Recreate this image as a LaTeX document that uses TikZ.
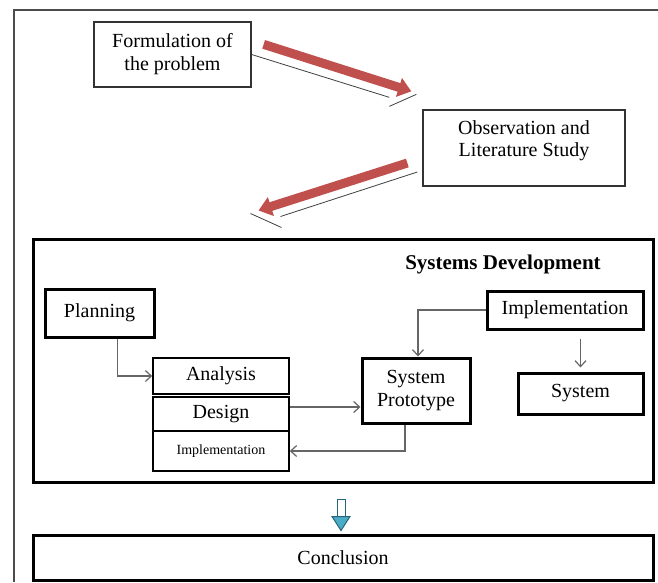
\documentclass[tikz,border=0pt]{standalone}
\usepackage{fontspec}
\setmainfont{Liberation Serif}
\usetikzlibrary{arrows.meta, positioning, calc}
\definecolor{flowred}{RGB}{192, 80, 77}
\definecolor{downteal}{RGB}{75, 172, 198}
\definecolor{downdark}{RGB}{38, 100, 120}

\begin{document}
\begin{tikzpicture}[x=1pt, y=-1pt,
    box/.style={draw=black!80, line width=1.3pt, inner sep=0pt, align=center, font=\fontsize{20}{23}\selectfont},
    boldbox/.style={box, draw=black, line width=3pt},
    stack/.style={box, draw=black, line width=1.6pt, minimum width=136pt},
    conn/.style={draw=black!60, line width=1.2pt, -{Straight Barb[length=6pt,width=11pt]}},
    bigarrow/.style={draw=flowred, line width=9pt, -{Triangle[length=13pt,width=19pt]}},
    shadowline/.style={draw=black!75, line width=0.8pt},
]
    \path[use as bounding box, fill=white] (0,0) rectangle (658,582);
    \draw[black!70, line width=2pt] (14,582) -- (14,10) -- (658,10);

    % Research steps
    \node[box, minimum width=157pt, minimum height=65pt] (form) at (172.5,54.5) {Formulation of\\the problem};
    \node[box, minimum width=202pt, minimum height=76pt] (obs) at (524,148)
        {\raisebox{7pt}[\height][\depth]{\begin{tabular}{@{}c@{}}Observation and\\[-1pt]Literature Study\end{tabular}}};

    % Systems development block
    \node[boldbox, minimum width=620pt, minimum height=243pt] (sysdev) at (343,360.5) {};
    \node[font=\bfseries\fontsize{21}{24}\selectfont] (title) at (503,264) {Systems Development};
    \node[boldbox, minimum width=109pt, minimum height=48pt] (plan) at (99.5,313) {Planning};
    \node[stack, minimum height=36pt] (analysis) at (221,376) {Analysis};
    \node[stack, minimum height=34pt] (design) at (221,414) {Design};
    \node[stack, minimum height=40pt, font=\fontsize{14}{16}\selectfont] (implsmall) at (221,451) {Implementation};
    \node[boldbox, minimum width=108pt, minimum height=65pt] (proto) at (416,390.5) {System\\Prototype};
    \node[boldbox, minimum width=156pt, minimum height=38pt] (impl) at (565,310) {Implementation};
    \node[boldbox, minimum width=125pt, minimum height=41pt] (system) at (580.5,393.5) {System};

    \node[boldbox, minimum width=620pt, minimum height=45pt] (concl) at (343,557.5) {Conclusion};

    % Red flow arrows
    \draw[shadowline] (form.east) -- ([shift={(-33,-12)}]obs.north west);
    \draw[shadowline] ([shift={(-33,-3)}]obs.north west) -- ([shift={(-6,-15)}]obs.north west);
    \draw[bigarrow] ([shift={(12,23)}]form.north east) -- ([shift={(-11,-18)}]obs.north west);

    \draw[shadowline] ([shift={(-5,24)}]obs.west) -- ([shift={(249,-21)}]sysdev.north west);
    \draw[shadowline] ([shift={(219,-24)}]sysdev.north west) -- ([shift={(250,-10)}]sysdev.north west);
    \draw[bigarrow] ([shift={(-15,15)}]obs.west) -- ([shift={(227,-27)}]sysdev.north west);

    % Connections
    \draw[conn] ([xshift=18pt]plan.south) |- (analysis.west);
    \draw[conn] ([yshift=7pt]design.east) -- ([yshift=7pt]design.east -| proto.west);
    \draw[conn] ([xshift=-11pt]proto.south) |- (implsmall.east);
    \draw[conn] (impl.west) -| ([xshift=2pt]proto.north);
    \draw[conn, shorten >=4pt] ([yshift=-8pt]impl.south -| system.north) -- (system.north);

    % Down arrow to conclusion
    \draw[downdark, fill=white, line width=1pt] ($(sysdev.south)+(-6,16)$) rectangle ($(sysdev.south)+(2,33)$);
    \draw[downdark, fill=downteal, line width=1pt] ($(sysdev.south)+(-11,33)$) -- ($(sysdev.south)+(7,33)$) -- ($(concl.north)+(-2,-3)$) -- cycle;

\end{tikzpicture}
\end{document}
